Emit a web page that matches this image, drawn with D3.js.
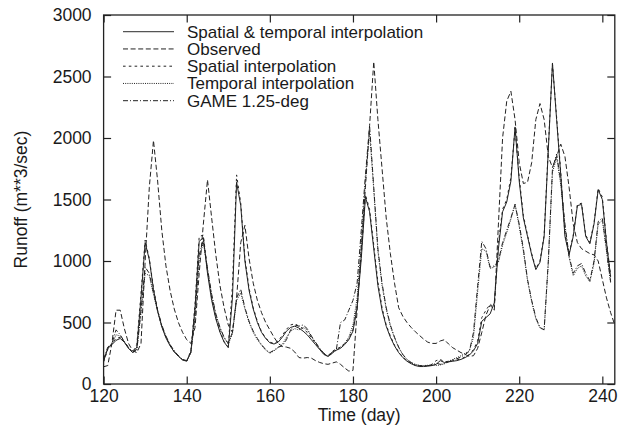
<!DOCTYPE html>
<html><head><meta charset="utf-8">
<script src="https://cdn.jsdelivr.net/npm/d3@7"></script>
<style>body{margin:0;background:#fff}svg text{font-family:"Liberation Sans",Arial,sans-serif;fill:#1a1a1a}</style>
</head><body><svg id="c" width="627" height="435"></svg>
<script>
const days = d3.range(120, 244);
const xTicks = [120,140,160,180,200,220,240];
const yTicks = [0,500,1000,1500,2000,2500,3000];
const seriesNames = ["Spatial & temporal interpolation","Observed","Spatial interpolation","Temporal interpolation","GAME 1.25-deg"];

const spatTemp = [185,290,320,355,370,340,290,255,300,700,1150,1010,770,590,465,375,310,260,225,195,185,260,620,1160,1190,900,680,530,420,340,295,700,1640,1450,1000,760,610,500,420,370,335,325,340,380,430,460,470,455,430,400,360,320,280,240,225,260,275,290,320,360,430,620,1020,1520,1400,1100,800,600,470,380,310,255,215,185,165,150,142,142,145,150,160,190,175,180,185,190,200,215,235,270,330,510,540,570,660,1100,1400,1480,1650,2090,1650,1350,1200,1050,930,990,1200,1900,2610,2150,1700,1200,1050,1200,1450,1460,1200,1140,1300,1580,1500,1150,870,null];
const observed = [140,150,330,600,600,450,330,270,255,330,1000,1600,1980,1650,1250,960,760,610,500,420,360,330,460,900,1300,1660,1350,1050,800,620,480,420,700,1150,1290,1020,820,680,580,500,440,380,330,305,300,290,260,215,210,215,210,190,175,165,160,170,180,160,130,105,110,600,1100,1600,2100,2620,2150,1750,1350,1060,820,620,550,500,460,425,395,365,340,330,330,350,360,325,295,275,255,240,225,230,290,420,560,640,600,1300,2000,2300,2380,2150,1800,1630,1640,1800,2150,2280,2150,1850,1760,1850,1950,1850,1600,1300,1150,1100,1080,1060,1050,1000,850,700,580,480];
const spatial = [180,280,330,370,380,345,295,260,320,740,1170,1020,780,600,470,380,315,262,228,198,188,270,650,1200,1210,920,700,540,430,345,300,800,1700,1470,1020,780,620,510,425,375,340,330,350,395,445,480,490,470,450,420,375,330,285,245,230,265,285,300,330,370,440,640,1050,1540,1420,1130,830,620,480,390,315,260,218,188,168,152,145,145,150,160,190,200,180,185,190,195,205,220,240,280,350,540,600,650,620,1150,1420,1500,1680,2080,1680,1370,1210,1060,940,1000,1210,1920,2600,2170,1720,1220,1060,1210,1460,1470,1210,1150,1310,1590,1520,1160,880,null];
const temporal = [190,290,320,400,390,340,290,255,275,580,900,880,730,590,470,385,318,268,228,198,188,255,540,1020,1150,930,720,565,455,375,325,410,680,740,610,500,420,360,315,275,250,270,295,320,380,430,450,440,460,440,385,335,285,245,222,248,275,300,330,380,480,700,1150,1650,2050,1580,1080,800,610,470,375,295,238,198,172,158,150,150,152,155,150,155,165,185,200,215,230,250,270,380,750,1100,1080,940,950,990,1130,1230,1340,1460,1280,1080,840,670,530,455,440,980,1720,1840,1620,1280,1030,880,940,960,880,830,980,1300,1330,1080,820,null];
const game = [200,300,330,440,400,345,295,260,280,600,950,900,740,600,480,390,320,270,230,200,190,260,560,1050,1170,940,730,570,460,380,330,420,700,770,620,510,430,370,320,280,255,275,300,310,360,440,480,470,480,450,390,340,290,250,225,250,280,500,520,600,680,820,1250,1700,2100,1600,1100,820,620,480,380,300,240,200,175,160,150,148,150,152,170,160,165,180,195,205,220,240,265,420,800,1160,1100,950,960,1000,1150,1250,1350,1460,1300,1100,850,680,540,460,440,1000,1750,1870,1650,1300,1040,900,960,980,900,840,1000,1320,1350,1100,830,null];

const allSeries = [spatTemp, observed, spatial, temporal, game];
const dashes = [null, "5,2.6", "2.6,3.2", "1,1.2", "5,2,1,2"];

const svg = d3.select("#c");
const m = {l:103.6, r:614.8, t:15, b:384};
const x = d3.scaleLinear().domain([120,243]).range([m.l, m.r]);
const y = d3.scaleLinear().domain([0,3000]).range([m.b, m.t]);

const g = svg.append("g");
const tl = 7.5;
const fmt = d3.format("d");
const axB = d3.axisBottom(x).tickValues(xTicks).tickFormat(fmt).tickSizeInner(-tl).tickSizeOuter(0).tickPadding(5.5);
const axL = d3.axisLeft(y).tickValues(yTicks).tickFormat(fmt).tickSizeInner(-tl).tickSizeOuter(0).tickPadding(12);
const axT = d3.axisTop(x).tickValues(xTicks).tickSizeInner(-tl).tickSizeOuter(0).tickFormat("");
const axR = d3.axisRight(y).tickValues(yTicks).tickSizeInner(-tl).tickSizeOuter(0).tickFormat("");
function style(sel){sel.select(".domain").remove();sel.selectAll("line").attr("stroke","#222").attr("stroke-width",1.2);sel.selectAll("text").attr("font-size","17.5px").attr("fill","#1a1a1a").attr("font-family","Liberation Sans, Arial, sans-serif");}
g.append("g").attr("transform",`translate(0,${m.b})`).call(axB).call(style);
g.append("g").attr("transform",`translate(${m.l},0)`).call(axL).call(style);
g.append("g").attr("transform",`translate(0,${m.t})`).call(axT).call(style);
g.append("g").attr("transform",`translate(${m.r},0)`).call(axR).call(style);

const line = d3.line().defined(d=>d[1]!=null).x(d=>x(d[0])).y(d=>y(d[1]));
allSeries.forEach((s,i)=>{
  g.append("path").datum(days.map((d,j)=>[d,s[j]]))
   .attr("d",line).attr("fill","none").attr("stroke","#222").attr("stroke-width",1)
   .attr("stroke-dasharray",dashes[i]);
});

g.append("rect").attr("x",m.l).attr("y",m.t).attr("width",m.r-m.l).attr("height",m.b-m.t)
 .attr("fill","none").attr("stroke","#222").attr("stroke-width",1.3);

const lg = g.append("g");
seriesNames.forEach((n,i)=>{
  const yy = 31.7 + i*17.25;
  lg.append("line").attr("x1",123).attr("x2",174).attr("y1",yy).attr("y2",yy)
    .attr("stroke", i===0?"#555":"#222").attr("stroke-width",i===0?1.3:1).attr("stroke-dasharray",dashes[i]);
  lg.append("text").attr("x",187).attr("y",yy+6).attr("font-size","17px").text(n);
});

g.append("text").attr("x",(m.l+m.r)/2).attr("y",421).attr("text-anchor","middle").attr("font-size","17.5px").text("Time (day)");
g.append("text").attr("transform",`translate(27,${(m.t+m.b)/2}) rotate(-90)`).attr("text-anchor","middle").attr("font-size","17.5px").text("Runoff (m**3/sec)");
</script></body></html>
